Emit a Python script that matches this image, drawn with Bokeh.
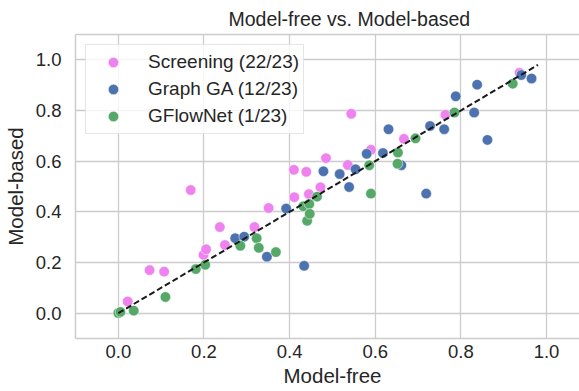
from bokeh.plotting import figure
from bokeh.models import FixedTicker, LinearAxis, Legend, LegendItem, Title, Range1d
from bokeh.embed import file_html
from bokeh.resources import INLINE

# Per-task scores: model-free (x) vs. model-based (y) for each generator
screen_free = [0.022, 0.073, 0.107, 0.169, 0.199, 0.205, 0.237, 0.249, 0.318, 0.351, 0.410,
               0.411, 0.439, 0.445, 0.472, 0.485, 0.536, 0.544, 0.590, 0.667, 0.764, 0.937]
screen_based = [0.046, 0.170, 0.164, 0.486, 0.230, 0.252, 0.340, 0.269, 0.340, 0.415, 0.566,
                0.458, 0.558, 0.470, 0.497, 0.612, 0.585, 0.787, 0.645, 0.688, 0.783, 0.949]

graphga_free = [0.273, 0.294, 0.347, 0.392, 0.434, 0.479, 0.517, 0.539, 0.554, 0.580, 0.618,
                0.631, 0.661, 0.719, 0.728, 0.761, 0.788, 0.831, 0.838, 0.862, 0.941, 0.965]
graphga_based = [0.296, 0.302, 0.223, 0.413, 0.187, 0.560, 0.549, 0.498, 0.568, 0.629, 0.632,
                 0.726, 0.584, 0.472, 0.739, 0.726, 0.856, 0.792, 0.902, 0.684, 0.940, 0.926]

gflownet_free = [0.000, 0.005, 0.036, 0.110, 0.181, 0.203, 0.285, 0.323, 0.328, 0.368, 0.432,
                 0.441, 0.446, 0.447, 0.464, 0.586, 0.590, 0.652, 0.653, 0.694, 0.785, 0.921]
gflownet_based = [0.001, 0.005, 0.010, 0.064, 0.174, 0.191, 0.266, 0.296, 0.258, 0.241, 0.422,
                  0.365, 0.431, 0.392, 0.460, 0.584, 0.472, 0.590, 0.634, 0.690, 0.792, 0.906]

series_labels = ["Screening (22/23)", "Graph GA (12/23)", "GFlowNet (1/23)"]
series_colors = ["#EE82EE", "#4C72B0", "#55A868"]

# y = x reference diagonal
diag = [0.0, 0.98]

tick_values = [0.0, 0.2, 0.4, 0.6, 0.8, 1.0]
tick_labels = ["0.0", "0.2", "0.4", "0.6", "0.8", "1.0"]

FONT = "Liberation Sans"
TEXT = "#262626"
EDGE = "#cccccc"

p = figure(width=579, height=391, output_backend="svg", toolbar_location=None,
           title=None,
           x_range=Range1d(-0.1, 1.077), y_range=Range1d(-0.1, 1.1),
           min_border_left=74, min_border_right=0, min_border_top=34, min_border_bottom=53,
           y_axis_label="Model-based")
p.outline_line_color = None
p.background_fill_color = "white"
p.border_fill_color = "white"

overrides = {v: s for v, s in zip(tick_values, tick_labels)}
for ax in (p.xaxis[0], p.yaxis[0]):
    ax.ticker = FixedTicker(ticks=tick_values)
    ax.major_label_overrides = overrides
    ax.major_tick_out = 0
    ax.major_tick_in = 0
    ax.minor_tick_out = 0
    ax.minor_tick_in = 0
    ax.axis_line_color = EDGE
    ax.axis_line_width = 1.5
    ax.major_label_text_font = FONT
    ax.major_label_text_font_size = "18.5px"
    ax.major_label_text_color = TEXT
p.xaxis.major_label_standoff = 6
p.yaxis.major_label_standoff = 14
p.yaxis.axis_label_text_font = FONT
p.yaxis.axis_label_text_font_size = "20.5px"
p.yaxis.axis_label_text_font_style = "normal"
p.yaxis.axis_label_text_color = TEXT
p.yaxis.axis_label_standoff = 6

p.grid.grid_line_color = EDGE
p.grid.grid_line_width = 1.3

# thin top border line
top = LinearAxis(ticker=FixedTicker(ticks=[]), axis_line_color=EDGE, axis_line_width=1.5,
                 major_tick_out=0, major_tick_in=0, minor_tick_out=0, minor_tick_in=0,
                 major_label_text_font_size="0px", major_label_standoff=0)
p.add_layout(top, "above")

renderers = []
for xs, ys, color in zip([screen_free, graphga_free, gflownet_free],
                         [screen_based, graphga_based, gflownet_based], series_colors):
    r = p.scatter(x=xs, y=ys, size=10.5, fill_color=color, line_color="white", line_width=0.5)
    renderers.append(r)

p.line(x=diag, y=diag, line_color="#1a1a1a", line_width=2, line_dash="6 3")

# legend glyphs are sized from the glyph box, so a taller box gives larger dots
legend = Legend(items=[LegendItem(label=lab, renderers=[r]) for lab, r in zip(series_labels, renderers)],
                location="top_left", margin=10, padding=4, spacing=1,
                glyph_width=46, glyph_height=26, label_height=26, label_standoff=12,
                label_text_font=FONT, label_text_font_size="19px", label_text_color=TEXT,
                border_line_color=EDGE, border_line_width=1,
                background_fill_color="white", background_fill_alpha=0.8)
p.add_layout(legend)

title = Title(text="Model-free vs. Model-based", align="left", offset=153,
              text_font=FONT, text_font_size="19.5px", text_font_style="normal",
              text_color=TEXT)
p.add_layout(title, "above")

xlabel = Title(text="Model-free", align="left", offset=208, standoff=3,
               text_font=FONT, text_font_size="20.5px", text_font_style="normal",
               text_color=TEXT)
p.add_layout(xlabel, "below")

open("out.html", "w").write(file_html(p, INLINE))
